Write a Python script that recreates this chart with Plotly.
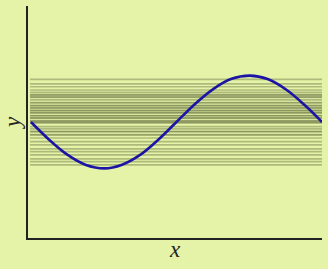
import plotly.graph_objects as go

# curve samples
curve_x = [0.1, 0.7, 1.35, 1.95, 2.6, 3.2, 3.8, 4.45, 5.05, 5.7, 6.3, 6.9, 7.55, 8.15, 8.8, 9.4, 10.0]
curve_y = [5.0, 4.26, 3.58, 3.16, 3.0, 3.16, 3.57, 4.26, 5.0, 5.8, 6.42, 6.85, 7.0, 6.85, 6.38, 5.74, 5.0]

# horizontal sample lines (y values)
level_y = [6.84, 6.64, 6.52, 6.38, 6.28, 6.16, 6.06, 5.95, 5.82, 5.70, 5.60, 5.49, 5.39,
           5.26, 5.17, 5.04, 4.96, 4.80, 4.70, 4.58, 4.44, 4.31, 4.15, 4.01, 3.84, 3.72,
           3.58, 3.41, 3.29, 3.15,
           5.72, 5.62, 5.50, 5.40, 5.28, 5.18, 5.06, 4.98, 6.18, 6.08, 5.84, 4.60, 4.46]
level_x0 = 0.07
level_x1 = 10.0

fig = go.Figure()
for yv in level_y:
    fig.add_trace(go.Scatter(x=[level_x0, level_x1], y=[yv, yv], mode="lines",
                             line=dict(color="rgba(90,100,55,0.4)", width=1.7),
                             hoverinfo="skip", showlegend=False))

fig.add_trace(go.Scatter(x=curve_x, y=curve_y, mode="lines",
                         line=dict(color="rgb(28,20,165)", width=2.6, shape="spline"),
                         showlegend=False))

bg = "#e4f3a8"
title_font = dict(family="Liberation Serif", size=23, color="#222", style="italic")
fig.update_layout(
    width=328, height=269,
    margin=dict(l=28, r=6, t=6, b=31),
    paper_bgcolor=bg, plot_bgcolor=bg,
    xaxis=dict(range=[0, 10], showline=True, linecolor="#222", linewidth=1.6,
               showgrid=False, zeroline=False, showticklabels=False, ticks="",
               title=dict(text="x", font=title_font, standoff=2)),
    yaxis=dict(range=[0, 10], showline=True, linecolor="#222", linewidth=1.6,
               showgrid=False, zeroline=False, showticklabels=False, ticks="",
               title=dict(text="y", font=title_font, standoff=4)),
)

fig.write_html("out.html")
